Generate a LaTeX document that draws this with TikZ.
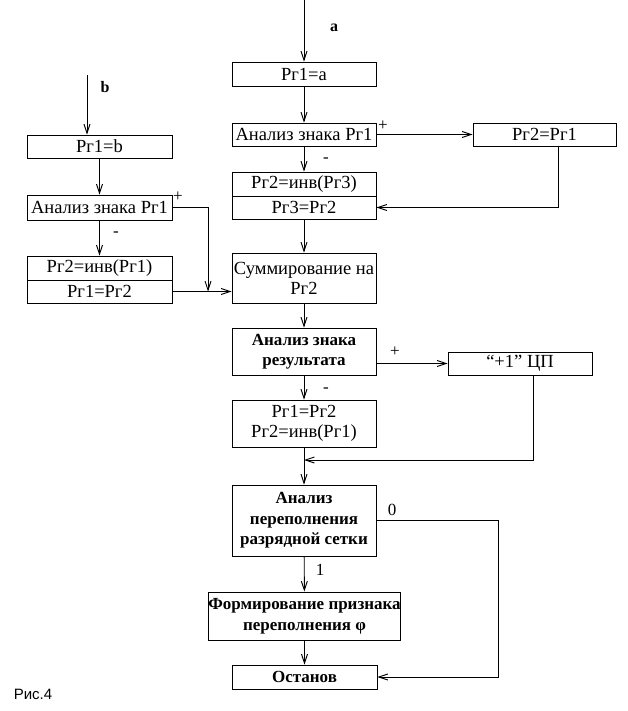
\documentclass[tikz,border=0pt]{standalone}
\usepackage{fontspec}
\setmainfont{Liberation Serif}
\newfontfamily\capfont{Liberation Sans}
\usetikzlibrary{arrows.meta}
\begin{document}
\begin{tikzpicture}[x=1pt,y=-1pt,
  every node/.style={font=\rmfamily\fontsize{18.5}{20}\selectfont},
  blk/.style={draw,line width=0.9pt,inner sep=0pt,minimum width=144pt,align=center},
  bblk/.style={blk,font=\rmfamily\fontsize{17}{20.5}\selectfont\bfseries},
  lbl/.style={inner sep=0pt,font=\rmfamily\fontsize{17}{20}\selectfont},
  con/.style={line width=0.9pt},
  arr/.style={con,-{Straight Barb[length=9pt,width=6pt,line width=0.9pt]}}
]
\useasboundingbox (0,0) rectangle (627,711);
% main column
\node[blk,minimum height=24pt] (pa) at (304,74) {Рг1=a};
\node[blk,minimum height=23pt] (sa) at (304,134.5) {Анализ знака Рг1};
\node[blk,minimum height=23pt,minimum width=143pt] (p21) at (544.5,134.5) {Рг2=Рг1};
\node[blk,minimum height=24pt] (inv3) at (304,184) {Рг2=инв(Рг3)};
\node[blk,minimum height=23pt] (pr3) at (304,207.5) {Рг3=Рг2};
\node[blk,minimum height=50pt] (sum) at (304,278) {Суммирование на\\Рг2};
\node[bblk,minimum height=47pt] (asr) at (304,351.5) {Анализ знака\\результата};
\node[blk,minimum height=23pt] (cp) at (520,363.5) {“+1” ЦП};
\node[blk,minimum height=47pt] (r12) at (304,423.5) {Рг1=Рг2\\Рг2=инв(Рг1)};
\node[bblk,minimum height=71pt] (ovf) at (304,520.5) {Анализ\\переполнения\\разрядной сетки};
\node[bblk,minimum height=48pt,minimum width=191pt] (frm) at (304.5,616) {Формирование признака\\переполнения φ};
\node[bblk,minimum height=24pt,minimum width=145pt] (stop) at (304.5,677) {Останов};
% left column
\node[blk,minimum height=23pt,minimum width=145pt] (pb) at (99.5,146.5) {Рг1=b};
\node[blk,minimum height=25pt,minimum width=145pt] (sb) at (99.5,207.5) {Анализ знака Рг1};
\node[blk,minimum height=24pt,minimum width=145pt] (inv1) at (99.5,268) {Рг2=инв(Рг1)};
\node[blk,minimum height=23pt,minimum width=145pt] (pr12) at (99.5,291.5) {Рг1=Рг2};
% coordinates
\coordinate (ta) at (304,0);
\coordinate (tb) at (87,75);
\coordinate (j1) at (558,207.5);
\coordinate (j2) at (208,207.5);
\coordinate (j3) at (208,291.5);
\coordinate (j4) at (533,460);
\coordinate (j5) at (304,460);
\coordinate (j6) at (498,520);
\coordinate (j7) at (498,677);
% labels
\node[lbl,font=\rmfamily\fontsize{16}{18}\selectfont\bfseries] (la) at (334,28) {a};
\node[lbl,font=\rmfamily\fontsize{16}{18}\selectfont\bfseries] (lb) at (105,87) {b};
\node[lbl] (lp1) at (383,126) {+};
\node[lbl] (lm1) at (326,160) {-};
\node[lbl] (lp2) at (178,197) {+};
\node[lbl] (lm2) at (116,234) {-};
\node[lbl] (lp3) at (395,352) {+};
\node[lbl] (lm3) at (326,390) {-};
\node[lbl] (l0) at (392,510) {0};
\node[lbl] (l1) at (320,570) {1};
\node[lbl,font=\capfont\fontsize{15}{17}\selectfont] (fig) at (33,694) {Рис.4};
% connectors
\draw[arr] (ta) -- (pa.north);
\draw[arr] (pa) -- (sa);
\draw[arr] (sa) -- (p21);
\draw[arr] (sa) -- (inv3);
\draw[arr] (p21.south -| j1) -- (j1) -- (pr3.east);
\draw[arr] (pr3) -- (sum);
\draw[arr] (tb) -- (pb.north -| tb);
\draw[arr] (pb) -- (sb);
\draw[arr] (sb.east) -- (j2) -- (j3);
\draw[arr] (sb) -- (inv1);
\draw[arr] (pr12.east) -- (sum.west |- pr12.east);
\draw[arr] (sum) -- (asr);
\draw[arr] (asr.east |- cp.west) -- (cp.west);
\draw[arr] (asr) -- (r12);
\draw[arr] (cp.south -| j4) -- (j4) -- (j5);
\draw[arr] (r12) -- (ovf);
\draw[arr] (ovf.east |- j6) -- (j6) -- (j7) -- (stop.east);
\draw[arr] (ovf) -- (frm);
\draw[arr] (frm) -- (stop);
\end{tikzpicture}
\end{document}
